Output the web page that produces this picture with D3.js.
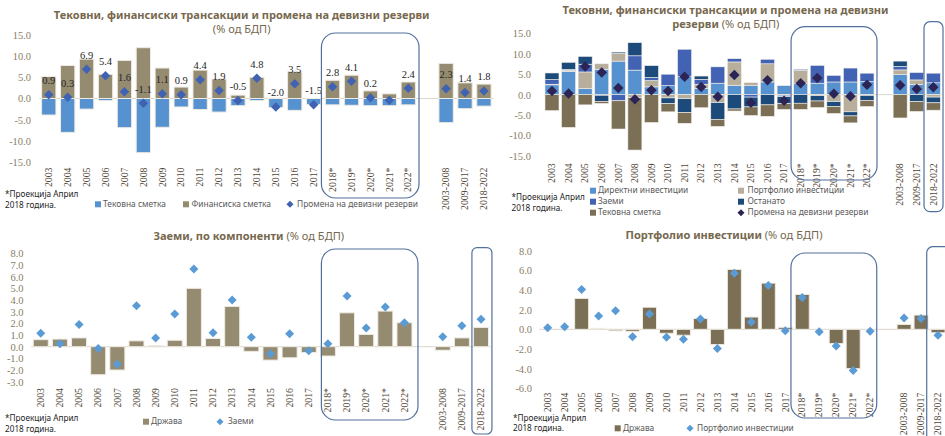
<!DOCTYPE html>
<html>
<head>
<meta charset="utf-8">
<script src="https://cdn.jsdelivr.net/npm/d3@7"></script>
<style>
  body { margin: 0; background: #ffffff; }
  svg { display: block; }
</style>
</head>
<body>
<svg id="chart" width="945" height="436"></svg>
<script>
// ---- categories ----
const years = ["2003","2004","2005","2006","2007","2008","2009","2010","2011","2012",
               "2013","2014","2015","2016","2017","2018*","2019*","2020*","2021*","2022*"];
const periods = ["2003-2008","2009-2017","2018-2022"];
const categories = years.concat(periods);
const projected = ["2018*","2019*","2020*","2021*","2022*"];

// ---- balance of payments, % of GDP ----
const currentAccount   = [-3.9,-8.0,-2.5,-0.5,-6.9,-12.8,-6.8,-2.0,-2.6,-3.2,-1.7,-0.5,-2.1,-2.8,-1.4,-1.5,-1.6,-1.7,-1.7,-1.5,-5.7,-2.4,-1.8];
const financialAccount = [5.2,7.8,9.3,5.7,9.0,12.0,7.2,2.7,6.7,4.6,0.8,5.0,0.1,6.3,0.0,4.3,5.5,1.8,1.1,3.9,8.3,3.7,3.4];
const reserveChange    = [0.9,0.3,6.9,5.4,1.6,-1.1,1.1,0.9,4.4,1.9,-0.5,4.8,-2.0,3.5,-1.5,2.8,4.1,0.2,-0.4,2.4,2.3,1.4,1.8];
const unlabelledReserve = ["2021*"];

// ---- financial account components ----
const directInvestment = [2.4,5.7,1.5,6.2,8.2,6.0,1.9,2.2,4.45,1.5,2.8,2.3,2.2,3.1,2.2,2.7,2.8,3.1,3.1,3.2,4.9,2.5,2.9];
const portfolio        = [0.15,0.25,4.05,1.35,1.9,-0.75,1.55,-0.8,-1.0,1.05,-1.95,5.7,0.75,4.45,-0.15,3.25,-0.25,-1.7,-4.2,-0.2,1.15,1.1,-0.6];
const loans            = [1.15,0.25,1.9,-0.15,-1.5,3.5,0.75,2.8,6.65,1.2,4.0,0.8,-0.6,1.1,-0.35,0.25,4.35,1.6,3.4,2.05,0.85,1.8,2.35];
const otherInvestment  = [1.6,1.7,1.9,-1.5,0.3,3.2,2.9,-1.4,-3.4,0.8,-4.1,-3.5,-2.4,-2.5,-1.7,-2.1,-1.3,-1.2,-1.0,-1.2,1.3,-1.7,-1.4];

// ---- government share ----
const loansGovernment     = [0.6,0.65,0.75,-2.4,-2.0,0.5,0.1,0.55,5.0,0.7,3.45,-0.4,-1.15,-0.95,-0.5,-0.8,2.9,1.05,3.05,2.05,-0.3,0.75,1.65];
const portfolioGovernment = [0,0,3.15,0.1,-0.15,-0.2,2.25,-0.4,-0.6,1.1,-1.55,6.1,1.25,4.7,0.2,3.55,0,-1.45,-4.0,0,0.5,1.45,-0.35];

// ---- axis ticks ----
const ticksBop = [15,10,5,0,-5,-10,-15];
const ticksLoans = [8,7,6,5,4,3,2,1,0,-1,-2,-3];
const ticksPortfolio = [8,6,4,2,0,-2,-4,-6];

// ---- labels ----
const footnote = ["*Проекција Април", "2018 година."];
const titleBop = "Тековни, финансиски трансакции и промена на девизни резерви";
const unitText = "(% од БДП)";

const svg = d3.select("#chart");
const SANS = "'Noto Sans', 'DejaVu Sans', sans-serif";
const SERIF = "'Liberation Serif', 'DejaVu Serif', serif";
const TITLE_COLOR = "#76684e";
const fmt = d3.formatLocale({decimal: ".", thousands: ",", grouping: [3], currency: ["", ""], minus: "-"}).format(".1f");

// the empty slot between the yearly bars and the period averages
const GAP = " ";
const domain = years.concat([GAP], periods);

function fitSize(str, weight, target) {
  const t = svg.append("text").attr("font-family", SANS).attr("font-weight", weight)
    .attr("font-size", 20).text(str);
  const w = t.node().getComputedTextLength();
  t.remove();
  return 20 * target / w;
}
const titleSize = fitSize(titleBop, "bold", 376);
const legendSize = fitSize("Промена на девизни резерви", "normal", 121);

function title(cx, cy, parts) {
  const t = svg.append("text").attr("x", cx).attr("y", cy).attr("text-anchor", "middle")
    .attr("dominant-baseline", "middle").attr("font-family", SANS)
    .attr("font-size", titleSize).attr("fill", TITLE_COLOR);
  parts.forEach(([s, bold]) => t.append("tspan").attr("font-weight", bold ? "bold" : "normal").text(s));
}

function panel(o) {
  const g = svg.append("g");
  const x = d3.scaleBand().domain(domain).range(o.xRange)
    .paddingInner(o.pad).paddingOuter(o.pad / 2);
  const y = d3.scaleLinear().domain(o.yDomain).range(o.yRange);

  g.append("line").attr("x1", o.xRange[0]).attr("x2", o.xRange[1])
    .attr("y1", y(0)).attr("y2", y(0)).attr("stroke", "#dcd7cc").attr("stroke-width", 1);

  const ya = g.append("g").attr("transform", `translate(${o.tickRight},0)`)
    .call(d3.axisLeft(y).tickValues(o.ticks).tickSize(0).tickPadding(0).tickFormat(fmt));
  ya.select(".domain").remove();
  ya.selectAll("text").attr("font-family", SERIF).attr("font-size", 10.5).attr("fill", "#8a7d65");

  const xa = g.append("g").attr("transform", `translate(0,${o.labelTop})`)
    .call(d3.axisBottom(x).tickValues(categories).tickSize(0));
  xa.select(".domain").remove();
  xa.selectAll("text").attr("transform", "rotate(-90)").attr("x", 0).attr("y", 0)
    .attr("dy", "0.33em").attr("text-anchor", "end")
    .attr("font-family", SERIF).attr("font-size", 9.8).attr("fill", "#4f4636");

  const layer = g.append("g");
  return {g: layer, x, y, o};
}

function box(p, from, to, dl, dr, y0, y1, r) {
  const x0 = p.x(from) + dl, x1 = p.x(to) + p.x.bandwidth() + dr;
  svg.append("rect").attr("x", x0).attr("y", y0).attr("width", x1 - x0).attr("height", y1 - y0)
    .attr("rx", r).attr("ry", r).attr("fill", "none").attr("stroke", "#52709d").attr("stroke-width", 1.2);
}

function bars(p, values, color, stroke) {
  const y = p.y;
  p.g.append("g").selectAll("rect").data(categories.map((c, i) => ({c, v: values[i]})))
    .join("rect")
    .attr("x", d => p.x(d.c)).attr("width", p.x.bandwidth())
    .attr("y", d => y(Math.max(0, d.v))).attr("height", d => Math.abs(y(d.v) - y(0)))
    .attr("fill", color).attr("stroke", stroke || "#efebe3").attr("stroke-width", 1);
}

function diamonds(p, values, color, diag) {
  const side = diag / Math.SQRT2;
  const sym = d3.symbol(d3.symbolSquare, side * side);
  p.g.append("g").selectAll("path").data(categories.map((c, i) => ({c, v: values[i]})))
    .join("path")
    .attr("d", sym)
    .attr("transform", d => `translate(${p.x(d.c) + p.x.bandwidth() / 2},${p.y(d.v)}) rotate(45)`)
    .attr("fill", color);
}

function legendItem(x, y, kind, color, label, textX) {
  if (kind === "square") {
    svg.append("rect").attr("x", x - 3).attr("y", y - 3).attr("width", 6).attr("height", 6).attr("fill", color);
  } else {
    const s = 5;
    svg.append("path").attr("d", d3.symbol(d3.symbolSquare, s * s)())
      .attr("transform", `translate(${x},${y}) rotate(45)`).attr("fill", color);
  }
  svg.append("text").attr("x", textX).attr("y", y).attr("dominant-baseline", "middle")
    .attr("font-family", SANS).attr("font-size", legendSize).attr("fill", "#595959").text(label);
}

function note(x, y0, y1) {
  [y0, y1].forEach((yy, i) => svg.append("text").attr("x", x).attr("y", yy)
    .attr("dominant-baseline", "middle").attr("font-family", SANS)
    .attr("font-size", legendSize * 0.98).attr("fill", "#1e1e1e").text(footnote[i]));
}

// ================= top left: current / financial account =================
const tl = panel({xRange: [39.3, 493.4], pad: 0.244, yDomain: [-15, 15], yRange: [162, 35],
                  ticks: ticksBop, tickRight: 31, labelTop: 167.5});
bars(tl, financialAccount, "#958b70");
bars(tl, currentAccount, "#5691d0");
diamonds(tl, reserveChange, "#4062b2", 9.5);
tl.g.append("g").selectAll("text")
  .data(categories.map((c, i) => ({c, v: reserveChange[i]})).filter(d => !unlabelledReserve.includes(d.c)))
  .join("text")
  .attr("x", d => tl.x(d.c) + tl.x.bandwidth() / 2).attr("y", d => tl.y(d.v) - 13)
  .attr("text-anchor", "middle").attr("dominant-baseline", "middle")
  .attr("font-family", SERIF).attr("font-size", 10.5).attr("fill", "#262626")
  .text(d => fmt(d.v));
box(tl, projected[0], projected[4], -4, 3.6, 33, 198, 14);
title(241.7, 15.8, [[titleBop, true]]);
title(241.7, 29.6, [[unitText, false]]);
legendItem(98, 204.3, "square", "#5691d0", "Тековна сметка", 103);
legendItem(186, 204.3, "square", "#958b70", "Финансиска сметка", 191.5);
legendItem(290, 204.3, "diamond", "#4062b2", "Промена на девизни резерви", 297);
note(5, 195, 205.5);

// ================= top right: financial account components =================
const tr = panel({xRange: [543.7, 941.6], pad: 0.155, yDomain: [-15, 15], yRange: [156, 33.3],
                  ticks: ticksBop, tickRight: 531, labelTop: 163.3});
const stackKeys = ["direct", "portfolio", "loans", "other", "ca"];
const stackColors = {direct: "#5691d0", portfolio: "#b7af9c", loans: "#4262b3", other: "#1b4a7b", ca: "#7b6f56"};
const stackRows = categories.map((c, i) => ({
  c, direct: directInvestment[i], portfolio: portfolio[i], loans: loans[i],
  other: otherInvestment[i], ca: currentAccount[i]
}));
const stacked = d3.stack().keys(stackKeys).offset(d3.stackOffsetDiverging)(stackRows);
tr.g.append("g").selectAll("g").data(stacked).join("g")
  .attr("fill", s => stackColors[s.key])
  .selectAll("rect").data(s => s).join("rect")
  .attr("x", d => tr.x(d.data.c)).attr("width", tr.x.bandwidth())
  .attr("y", d => tr.y(Math.max(d[0], d[1])))
  .attr("height", d => Math.abs(tr.y(d[0]) - tr.y(d[1])))
  .attr("stroke", "#f2efe9").attr("stroke-width", 0.6);
diamonds(tr, reserveChange, "#2c2457", 10.5);
box(tr, projected[0], projected[4], -2.6, 3, 26.7, 180, 14);
box(tr, periods[2], periods[2], -2.3, 2.7, 21.7, 211.7, 6);
title(725.5, 11.4, [["Тековни, финансиски трансакции и промена на девизни", true]]);
title(725.8, 25.2, [["резерви", true], [" " + unitText, false]]);
legendItem(593, 190.7, "square", "#5691d0", "Директни инвестиции", 598);
legendItem(741, 190.7, "square", "#b7af9c", "Портфолио инвестиции", 747.5);
legendItem(593, 201.7, "square", "#4262b3", "Заеми", 598);
legendItem(741, 201.7, "square", "#1b4a7b", "Останато", 747.5);
legendItem(593, 212.7, "square", "#7b6f56", "Тековна сметка", 598);
legendItem(741, 212.7, "diamond", "#2c2457", "Промена на девизни резерви", 747.5);
note(511.5, 197.7, 208.5);

// ================= bottom left: loans =================
const bl = panel({xRange: [31.2, 490.6], pad: 0.216, yDomain: [-3, 8], yRange: [381.7, 253.3],
                  ticks: ticksLoans, tickRight: 23.5, labelTop: 388});
bars(bl, loansGovernment, "#958b71");
diamonds(bl, loans, "#5b9bd5", 9);
box(bl, projected[0], projected[4], 1, 6, 249, 420, 14);
box(bl, periods[2], periods[2], -1.6, 3.4, 247.7, 434, 5);
title(248.8, 236.7, [["Заеми, по компоненти", true], [" " + unitText, false]]);
legendItem(146, 421.7, "square", "#958b71", "Држава", 151);
legendItem(220, 421.7, "diamond", "#5b9bd5", "Заеми", 228);
note(5, 419, 429.5);

// ================= bottom right: portfolio investment =================
const br = panel({xRange: [539.2, 946.5], pad: 0.175, yDomain: [-6, 8], yRange: [388.3, 250.7],
                  ticks: ticksPortfolio, tickRight: 532, labelTop: 392.7});
bars(br, portfolioGovernment, "#7b6f55");
diamonds(br, portfolio, "#5b9bd5", 9);
box(br, projected[0], projected[4], -4.3, -0.4, 253, 418, 14);
box(br, periods[2], periods[2], -4.3, 12, 246.7, 445, 6);
title(724, 236, [["Портфолио инвестиции", true], [" " + unitText, false]]);
legendItem(617.7, 428.3, "square", "#7b6f55", "Држава", 623);
legendItem(690, 428.3, "diamond", "#5b9bd5", "Портфолио инвестиции", 697);
note(513, 418.3, 428.8);
</script>
</body>
</html>
